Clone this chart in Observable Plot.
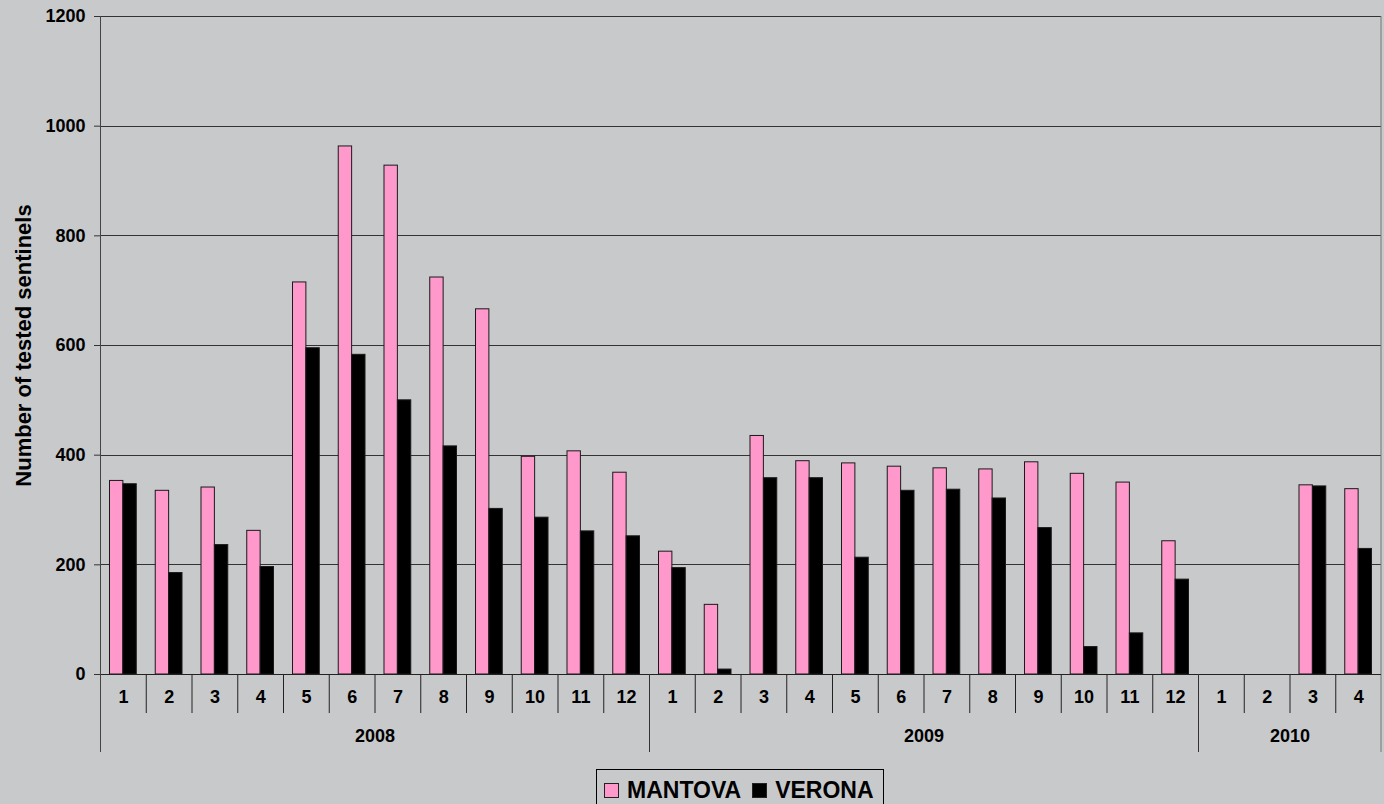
<!DOCTYPE html>
<html>
<head>
<meta charset="utf-8">
<script src="https://cdn.jsdelivr.net/npm/d3@7"></script>
<script src="https://cdn.jsdelivr.net/npm/@observablehq/plot@0.6"></script>
<style>
  html, body { margin: 0; padding: 0; background: #c8c9cb; }
  #wrap { position: relative; width: 1384px; height: 804px; overflow: hidden; background: #c8c9cb;
          font-family: "Liberation Sans", Arial, sans-serif; }
  #chart svg { display: block; }
  #legend { position: absolute; left: 596px; top: 769px; width: 286px; height: 40px;
            border: 1px solid #000; box-sizing: content-box; display: flex; align-items: center;
            font-weight: bold; font-size: 23px; color: #000; }
  #legend .sw { width: 13px; height: 13px; border: 1px solid #222; display: inline-block; }
  #legend .item { display: flex; align-items: center; }
</style>
</head>
<body>
<div id="wrap">
  <div id="chart"></div>
  <div id="legend"></div>
</div>
<script>
// ---- data ----
const years   = [2008,2008,2008,2008,2008,2008,2008,2008,2008,2008,2008,2008,
                 2009,2009,2009,2009,2009,2009,2009,2009,2009,2009,2009,2009,
                 2010,2010,2010,2010];
const months  = [1,2,3,4,5,6,7,8,9,10,11,12,
                 1,2,3,4,5,6,7,8,9,10,11,12,
                 1,2,3,4];
const mantova = [353,335,341,262,715,963,928,724,666,397,407,368,
                 224,127,435,389,385,379,376,374,387,366,350,243,
                 null,null,345,338];
const verona  = [347,185,236,196,595,583,500,416,302,286,261,252,
                 194,9,358,358,213,335,337,321,267,50,75,173,
                 null,null,343,229];
const seriesNames  = ["MANTOVA", "VERONA"];
const seriesColors = ["#ff99cc", "#000000"];
const yTicks = [0, 200, 400, 600, 800, 1000, 1200];
const yLabel = "Number of tested sentinels";

// ---- derived tables ----
const cats = years.map((y, i) => ({key: `${y}-${months[i]}`, year: y, month: months[i]}));
const keys = cats.map(d => d.key);
const rows = [];
cats.forEach((c, i) => {
  if (mantova[i] != null) rows.push({key: c.key, series: seriesNames[0], value: mantova[i]});
  if (verona[i] != null)  rows.push({key: c.key, series: seriesNames[1], value: verona[i]});
});
const yearList = Array.from(new Set(years));
const yearStarts = yearList.map(y => cats.find(c => c.year === y));
const yearMids = yearList.map(y => {
  const cs = cats.filter(c => c.year === y);
  return {key: cs[Math.floor(cs.length / 2) - 1].key, year: String(y)};
});

// ---- layout ----
const W = 1384, H = 765;
const ML = 100, MR = 3, MT = 16, MB = H - 674;
const plotH = H - MT - MB;
const facetW = (W - ML - MR) / keys.length;
const font = "Liberation Sans, Arial, sans-serif";

const chart = Plot.plot({
  width: W,
  height: H,
  marginLeft: ML,
  marginRight: MR,
  marginTop: MT,
  marginBottom: MB,
  style: {background: "transparent", fontFamily: font, fontWeight: "bold", fontSize: "18px", color: "#000", overflow: "visible"},
  fx: {domain: keys, paddingInner: 0, paddingOuter: 0, round: false, axis: null},
  x: {domain: seriesNames, paddingInner: 0, paddingOuter: 0.71, round: false, axis: null},
  y: {domain: [0, 1200], axis: null},
  color: {domain: seriesNames, range: seriesColors},
  marks: [
    // horizontal grid
    Plot.ruleY(yTicks.filter(t => t > 0), {stroke: "#333", strokeWidth: 1, shapeRendering: "crispEdges"}),
    // right border of plot area
    Plot.ruleX([keys[keys.length - 1]], {fx: d => d, x: null, dx: facetW / 2 - 0.5, stroke: "#777", insetBottom: -(752 - 674)}),
    // bars
    Plot.barY(rows, {fx: "key", x: "series", y: "value", fill: "series", stroke: "#1a1a1a", strokeWidth: 1}),
    // baseline
    Plot.ruleY([0], {stroke: "#222", strokeWidth: 1, shapeRendering: "crispEdges"}),
    // month separators
    Plot.ruleX(cats, {fx: "key", x: null, dx: -facetW / 2, stroke: "#222", insetTop: plotH, insetBottom: -(713 - 674)}),
    // year separators
    Plot.ruleX(yearStarts, {fx: "key", x: null, dx: -facetW / 2, stroke: "#333", insetTop: plotH, insetBottom: -(752 - 674)}),
    // y axis line (full height plus extension)
    Plot.ruleX([keys[0]], {fx: d => d, x: null, dx: -facetW / 2, stroke: "#444", insetBottom: -(752 - 674)}),
    // y axis ticks and labels
    Plot.axisY(yTicks, {tickSize: 6, tickPadding: 9, tickFormat: d => String(d), label: null,
                        fontSize: 18, fontWeight: "bold", stroke: "#333"}),
    // y axis title
    Plot.text([yLabel], {fx: () => keys[0], text: d => d, frameAnchor: "left", textAnchor: "middle",
                         lineAnchor: "middle", rotate: -90, dx: 23 - ML,
                         fontSize: 22, fontWeight: "bold", fill: "#000"}),
    // month labels
    Plot.text(cats, {fx: "key", text: d => String(d.month), frameAnchor: "bottom", dy: 702 - 674,
                     fontSize: 18, fontWeight: "bold", fill: "#000"}),
    // year labels
    Plot.text(yearMids, {fx: "key", text: "year", frameAnchor: "bottom", dx: facetW / 2, dy: 741 - 674,
                         fontSize: 18, fontWeight: "bold", fill: "#000"})
  ]
});
document.getElementById("chart").append(chart);

// ---- legend ----
const legend = document.getElementById("legend");
seriesNames.forEach((name, i) => {
  const item = document.createElement("span");
  item.className = "item";
  item.style.marginLeft = i === 0 ? "7px" : "11px";
  const sw = document.createElement("span");
  sw.className = "sw";
  sw.style.background = seriesColors[i];
  const label = document.createElement("span");
  label.textContent = name;
  label.style.marginLeft = "8px";
  item.append(sw, label);
  legend.append(item);
});
</script>
</body>
</html>
